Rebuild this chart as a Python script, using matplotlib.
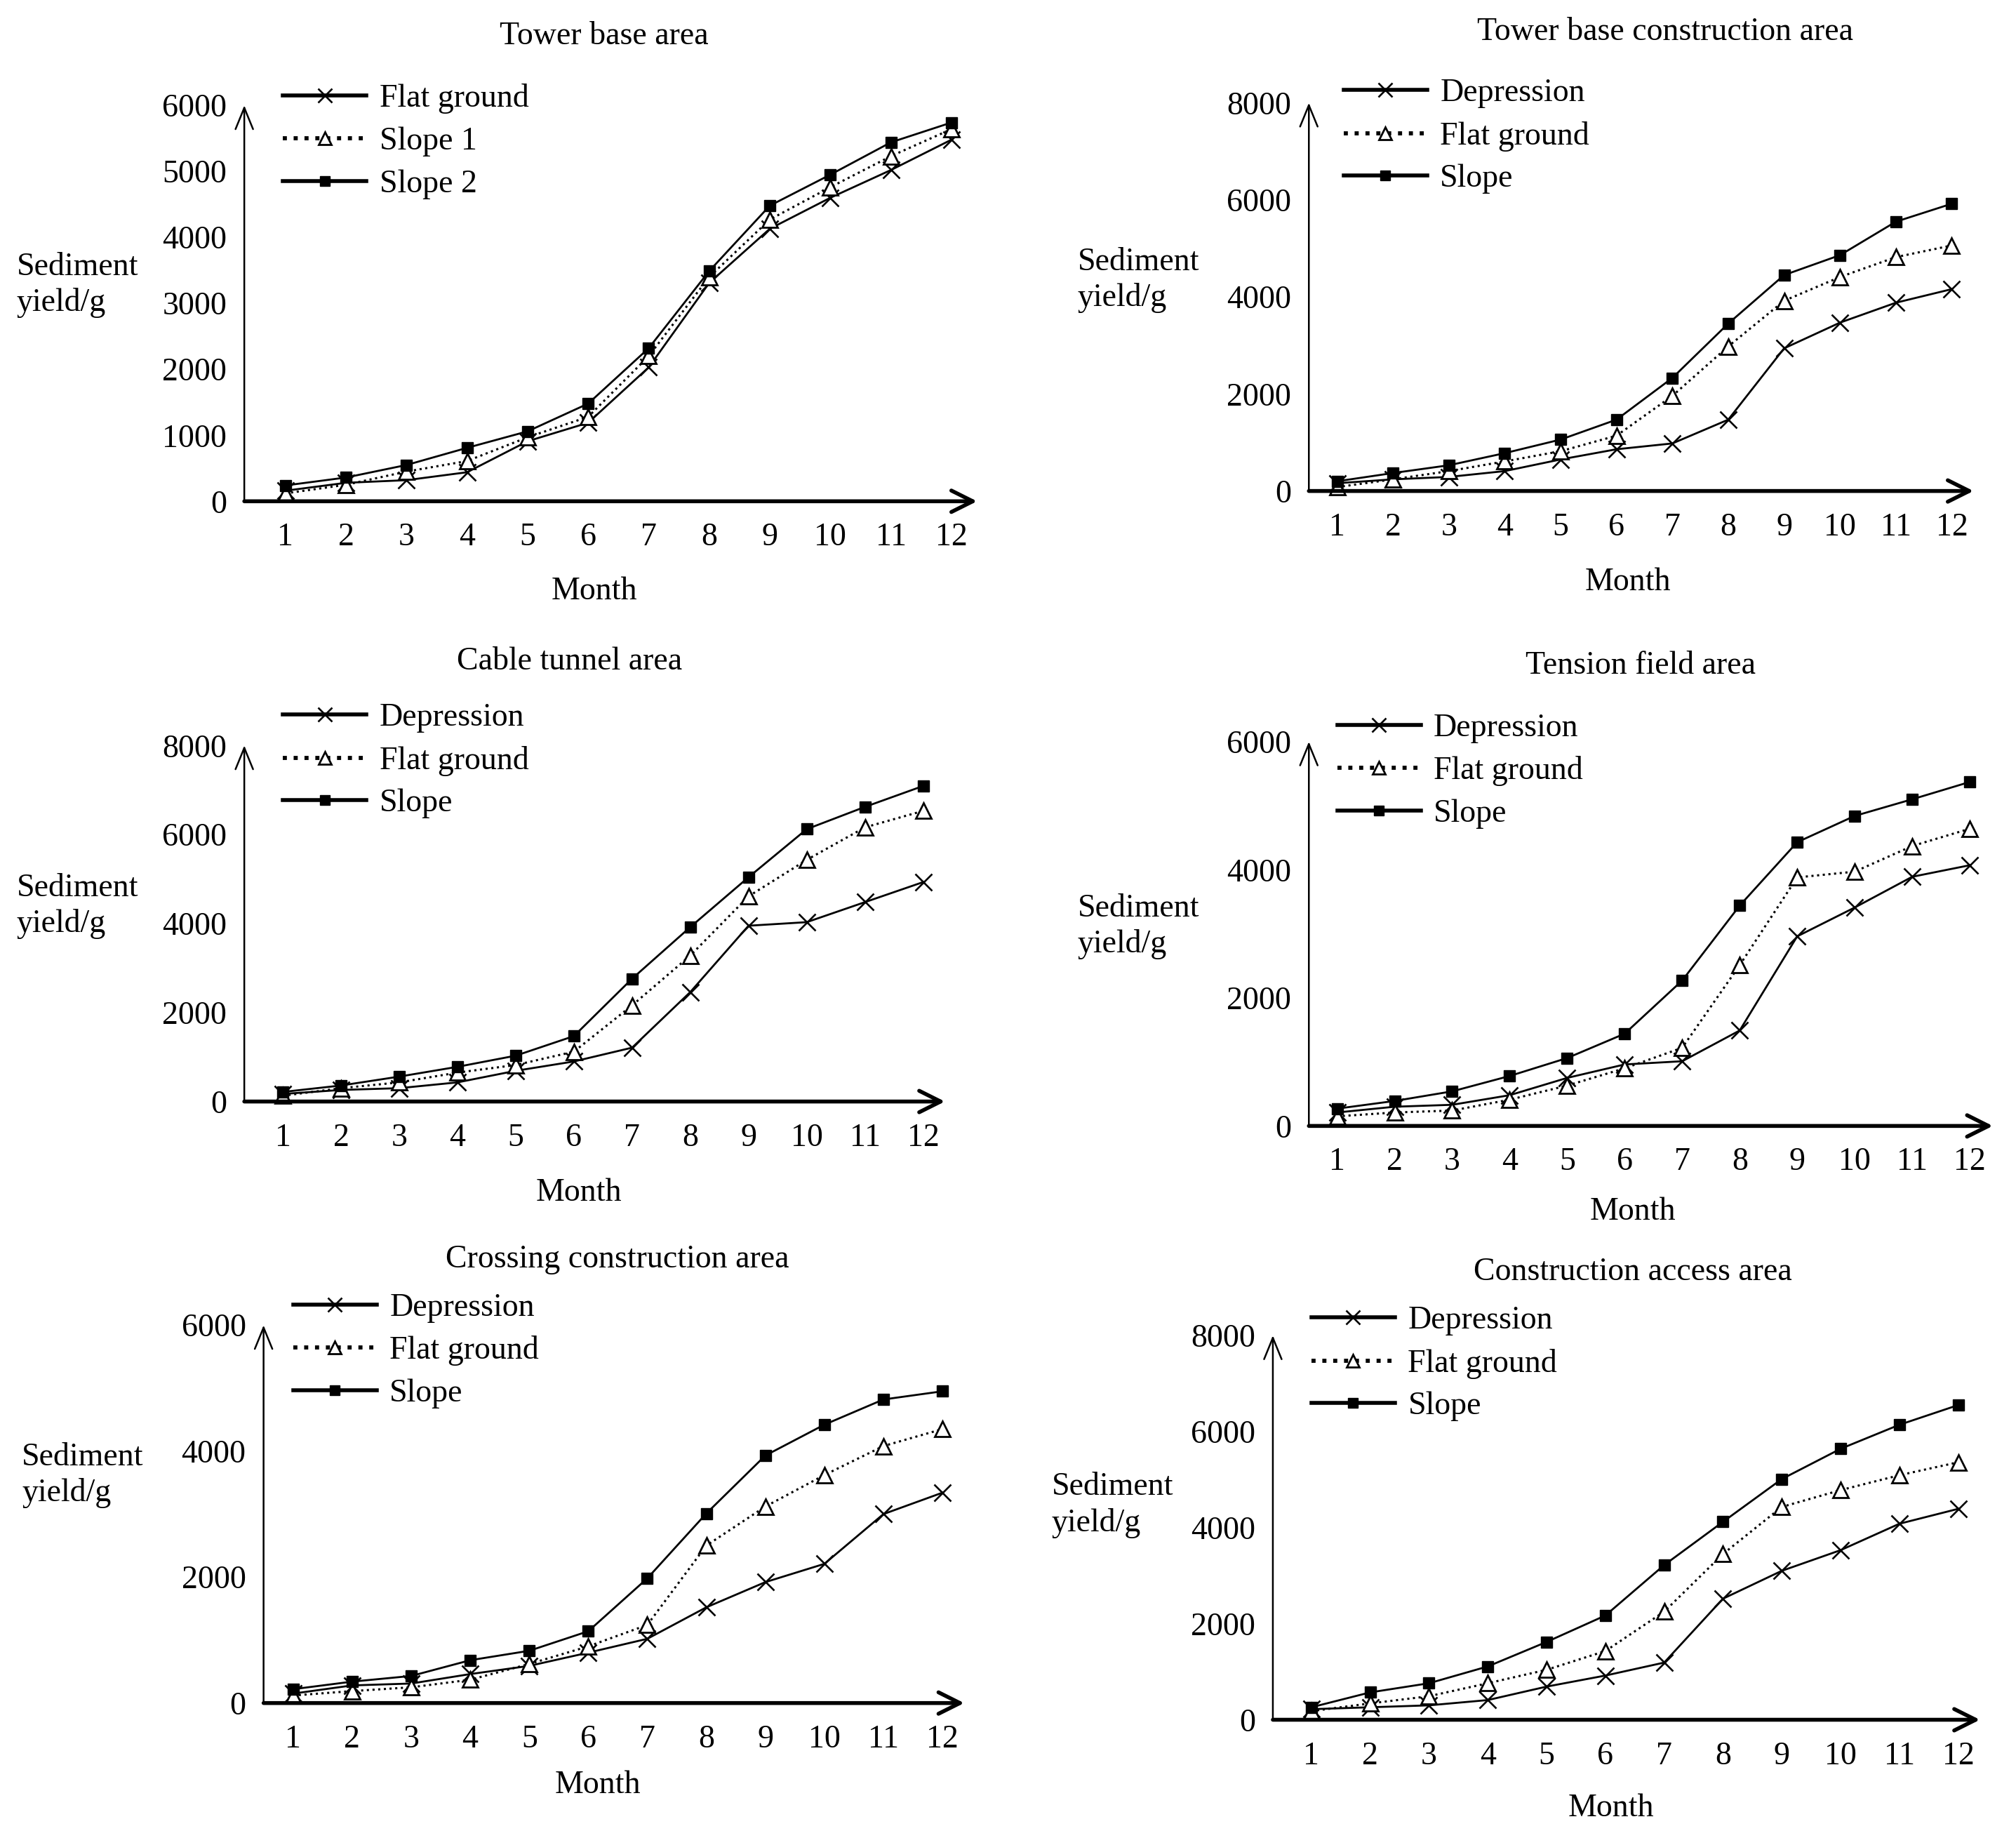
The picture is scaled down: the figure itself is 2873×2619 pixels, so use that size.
import matplotlib
matplotlib.use("Agg")
import matplotlib.pyplot as plt
from matplotlib.lines import Line2D

plt.rcParams['font.family'] = ['Liberation Serif', 'DejaVu Serif']

months = list(range(1, 13))

# ---- data (g) ----
titles = ["Tower base area", "Tower base construction area", "Cable tunnel area",
          "Tension field area", "Crossing construction area", "Construction access area"]

p1_names = ["Flat ground", "Slope 1", "Slope 2"]
p1_flat = [160, 280, 320, 440, 910, 1190, 2030, 3310, 4130, 4600, 5020, 5480]
p1_slope1 = [120, 250, 450, 610, 970, 1280, 2200, 3400, 4270, 4760, 5230, 5640]
p1_slope2 = [240, 360, 550, 810, 1060, 1480, 2320, 3490, 4480, 4950, 5440, 5740]

names = ["Depression", "Flat ground", "Slope"]
p2_dep = [160, 240, 290, 410, 650, 860, 980, 1470, 2940, 3470, 3880, 4160]
p2_flat = [80, 240, 410, 610, 820, 1140, 1960, 2980, 3920, 4410, 4820, 5060]
p2_slope = [200, 370, 530, 780, 1060, 1470, 2330, 3450, 4450, 4860, 5550, 5920]

p3_dep = [170, 260, 300, 430, 690, 900, 1210, 2460, 3950, 4030, 4480, 4930]
p3_flat = [130, 300, 430, 650, 820, 1120, 2160, 3280, 4610, 5430, 6160, 6530]
p3_slope = [215, 360, 560, 780, 1030, 1470, 2760, 3920, 5040, 6120, 6620, 7090]

p4_dep = [210, 300, 330, 480, 750, 960, 1010, 1490, 2960, 3410, 3890, 4070]
p4_flat = [150, 210, 240, 410, 630, 900, 1220, 2510, 3880, 3970, 4370, 4640]
p4_slope = [270, 390, 540, 780, 1060, 1440, 2270, 3440, 4430, 4840, 5100, 5370]

p5_dep = [150, 280, 310, 460, 590, 800, 1020, 1520, 1920, 2210, 3000, 3340]
p5_flat = [120, 190, 250, 370, 620, 900, 1240, 2500, 3120, 3620, 4080, 4350]
p5_slope = [220, 340, 430, 680, 830, 1140, 1980, 3010, 3930, 4420, 4820, 4950]

p6_dep = [220, 260, 300, 410, 690, 920, 1190, 2520, 3100, 3530, 4080, 4390]
p6_flat = [180, 340, 490, 760, 1040, 1430, 2250, 3450, 4430, 4780, 5090, 5360]
p6_slope = [260, 570, 760, 1110, 1620, 2170, 3220, 4120, 5010, 5640, 6140, 6550]

yticks_6 = [0, 1000, 2000, 3000, 4000, 5000, 6000]
yticks_6b = [0, 2000, 4000, 6000]
yticks_8 = [0, 2000, 4000, 6000, 8000]

# ---- layout (reference pixel coords on a 1568 x 1430 grid) ----
W, H = 1568.0, 1430.0
FS = 33

panels = [
    dict(x0=190, x1=760, yb=390, yt=82, t1=222, t12=740, ymax=6000, title=(470, 28), month=(462, 460),
         ylab=(13, 222), leg=(220, 75), yticks=yticks_6),
    dict(x0=1018, x1=1535, yb=382, yt=80, t1=1040, t12=1518, ymax=8000, title=(1295, 25), month=(1266, 453),
         ylab=(838, 218), leg=(1045, 71), yticks=yticks_8),
    dict(x0=190, x1=735, yb=857, yt=580, t1=220, t12=718, ymax=8000, title=(443, 515), month=(450, 928),
         ylab=(13, 705), leg=(220, 557), yticks=yticks_8),
    dict(x0=1018, x1=1550, yb=876, yt=577, t1=1040, t12=1532, ymax=6000, title=(1276, 518), month=(1270, 943),
         ylab=(838, 721), leg=(1040, 565), yticks=yticks_6b),
    dict(x0=205, x1=750, yb=1325, yt=1031, t1=228, t12=733, ymax=6000, title=(480, 980), month=(465, 1389),
         ylab=(17, 1148), leg=(228, 1016), yticks=yticks_6b),
    dict(x0=990, x1=1540, yb=1338, yt=1039, t1=1020, t12=1523, ymax=8000, title=(1270, 990), month=(1253, 1407),
         ylab=(818, 1171), leg=(1020, 1026), yticks=yticks_8),
]

series = [
    (p1_names, [p1_flat, p1_slope1, p1_slope2]),
    (names, [p2_dep, p2_flat, p2_slope]),
    (names, [p3_dep, p3_flat, p3_slope]),
    (names, [p4_dep, p4_flat, p4_slope]),
    (names, [p5_dep, p5_flat, p5_slope]),
    (names, [p6_dep, p6_flat, p6_slope]),
]

styles = [
    dict(ls='-', marker='x', ms=17, mew=1.9, mfc='black', lw=2.0),
    dict(ls=':', marker='^', ms=16, mew=2.0, mfc='white', lw=2.2),
    dict(ls='-', marker='s', ms=12, mew=1.0, mfc='black', lw=2.0),
]

fig = plt.figure(figsize=(28.73, 26.19), dpi=100)

for idx, (p, (labels, data)) in enumerate(zip(panels, series)):
    left = p['x0'] / W
    width = (p['x1'] - p['x0']) / W
    bottom = 1 - p['yb'] / H
    height = (p['yb'] - p['yt']) / H
    ax = fig.add_axes([left, bottom, width, height])
    step = (p['t12'] - p['t1']) / 11.0
    m0 = 1 - (p['t1'] - p['x0']) / step
    m1 = 12 + (p['x1'] - p['t12']) / step
    ax.set_xlim(m0, m1)
    ax.set_ylim(0, p['ymax'])
    handles = []
    for lab, vals, st in zip(labels, data, styles):
        ax.plot(months, vals, color='black', linestyle=st['ls'], linewidth=st['lw'],
                marker=st['marker'], markersize=st['ms'], markeredgewidth=st['mew'],
                markerfacecolor=st['mfc'], markeredgecolor='black', clip_on=False, zorder=3)
        handles.append(Line2D([], [], color='black', linestyle=st['ls'], linewidth=st['lw'] + 2.0,
                              marker=st['marker'], markersize=st['ms'] * 0.85, markeredgewidth=st['mew'],
                              markerfacecolor=st['mfc'], markeredgecolor='black'))
    for s in ax.spines.values():
        s.set_visible(False)
    ax.set_xticks(months)
    ax.set_yticks(p['yticks'])
    ax.tick_params(axis='both', length=0, labelsize=FS)
    ax.tick_params(axis='x', pad=22)
    ax.tick_params(axis='y', pad=18)
    ax.patch.set_alpha(0)
    # axes with open arrow heads
    ax.annotate('', xy=(1, 0), xytext=(0, 0), xycoords='axes fraction', textcoords='axes fraction',
                arrowprops=dict(arrowstyle='->,head_length=1.1,head_width=0.55', lw=4.0, color='black',
                                mutation_scale=20, shrinkA=0, shrinkB=0), annotation_clip=False)
    ax.annotate('', xy=(0, 1), xytext=(0, 0), xycoords='axes fraction', textcoords='axes fraction',
                arrowprops=dict(arrowstyle='->,head_length=1.1,head_width=0.45', lw=1.8, color='black',
                                mutation_scale=20, shrinkA=0, shrinkB=0), annotation_clip=False)
    # texts
    fig.text(p['title'][0] / W, 1 - p['title'][1] / H, titles[idx], ha='center', va='center',
             fontsize=FS)
    fig.text(p['month'][0] / W, 1 - p['month'][1] / H, 'Month', ha='center', va='center', fontsize=FS)
    fig.text(p['ylab'][0] / W, 1 - p['ylab'][1] / H, 'Sediment\nyield/g', ha='left', va='center',
             fontsize=FS, linespacing=1.25)
    lx, ly = p['leg']
    fig.legend(handles, labels, loc='upper left',
               bbox_to_anchor=(lx / W, 1 - (ly - 10) / H), frameon=False, fontsize=FS,
               handlelength=2.6, handletextpad=0.4, labelspacing=0.4, borderpad=0, borderaxespad=0)

fig.savefig('out.png', dpi=100, facecolor='white')
